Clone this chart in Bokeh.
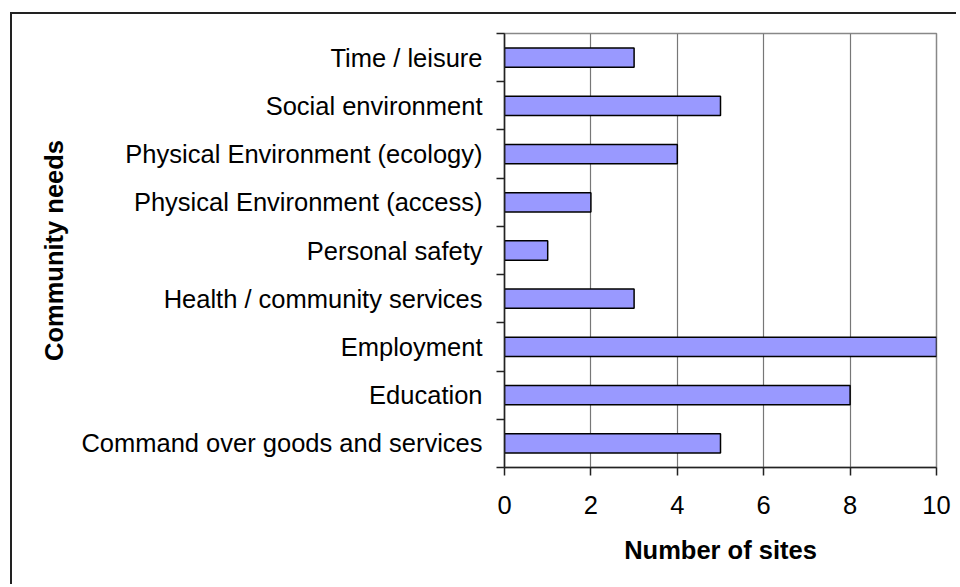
from bokeh.plotting import figure
from bokeh.models import Range1d, LinearAxis, FixedTicker
from bokeh.embed import file_html
from bokeh.resources import INLINE

categories = [
    "Command over goods and services",
    "Education",
    "Employment",
    "Health / community services",
    "Personal safety",
    "Physical Environment (access)",
    "Physical Environment (ecology)",
    "Social environment",
    "Time / leisure",
]
sites = [5, 8, 10, 3, 1, 2, 4, 5, 3]
x_ticks = [0, 2, 4, 6, 8, 10]

FONT = "Liberation Sans"
FS = "25.5px"
n = len(categories)
positions = [i + 0.5 for i in range(n)]
boundaries = list(range(n + 1))

p = figure(
    width=946, height=572,
    x_range=Range1d(0, 10), y_range=Range1d(0, n),
    output_backend="svg", toolbar_location=None,
    y_axis_type=None,
    min_border_left=492, min_border_top=19,
    min_border_right=22, min_border_bottom=119,
)
p.margin = (12, 0, 0, 10)
p.styles = {"border-top": "2px solid #222", "border-left": "2px solid #222"}
p.background_fill_color = "white"
p.border_fill_color = "white"
p.outline_line_color = "#888888"
p.outline_line_width = 1.5

p.hbar(y=positions, left=0, right=sites, height=0.4,
       fill_color="#9999FF", line_color="black", line_width=1.5)

# x axis
xa = p.xaxis[0]
xa.ticker = FixedTicker(ticks=x_ticks)
xa.axis_line_color = "#222222"
xa.axis_line_width = 1.5
xa.major_tick_line_color = "#222222"
xa.major_tick_line_width = 1.5
xa.major_tick_out = 8
xa.major_tick_in = 0
xa.minor_tick_line_color = None
xa.major_label_text_font = FONT
xa.major_label_text_font_size = FS
xa.major_label_text_color = "black"
xa.major_label_standoff = 20
xa.axis_label = "Number of sites"
xa.axis_label_text_font = FONT
xa.axis_label_text_font_size = FS
xa.axis_label_text_font_style = "bold"
xa.axis_label_text_color = "black"
xa.axis_label_standoff = 19

# y axis: labels at category centres, ticks at boundaries
ya = LinearAxis(
    ticker=FixedTicker(ticks=positions, minor_ticks=boundaries),
    major_label_overrides={pos: cat for pos, cat in zip(positions, categories)},
)
ya.axis_line_color = "#222222"
ya.axis_line_width = 1.5
ya.major_tick_out = 0
ya.major_tick_in = 0
ya.major_tick_line_color = None
ya.minor_tick_out = 8
ya.minor_tick_in = 0
ya.minor_tick_line_color = "#222222"
ya.minor_tick_line_width = 1.5
ya.major_label_text_font = FONT
ya.major_label_text_font_size = FS
ya.major_label_text_color = "black"
ya.major_label_standoff = 14
ya.axis_label = "Community needs"
ya.axis_label_text_font = FONT
ya.axis_label_text_font_size = FS
ya.axis_label_text_font_style = "bold"
ya.axis_label_text_color = "black"
ya.axis_label_standoff = 10
p.add_layout(ya, "left")

# grid
p.xgrid.ticker = FixedTicker(ticks=x_ticks)
p.xgrid.grid_line_color = "#777777"
p.xgrid.grid_line_width = 1.2
p.ygrid.grid_line_color = None

open("out.html", "w").write(file_html(p, INLINE))
